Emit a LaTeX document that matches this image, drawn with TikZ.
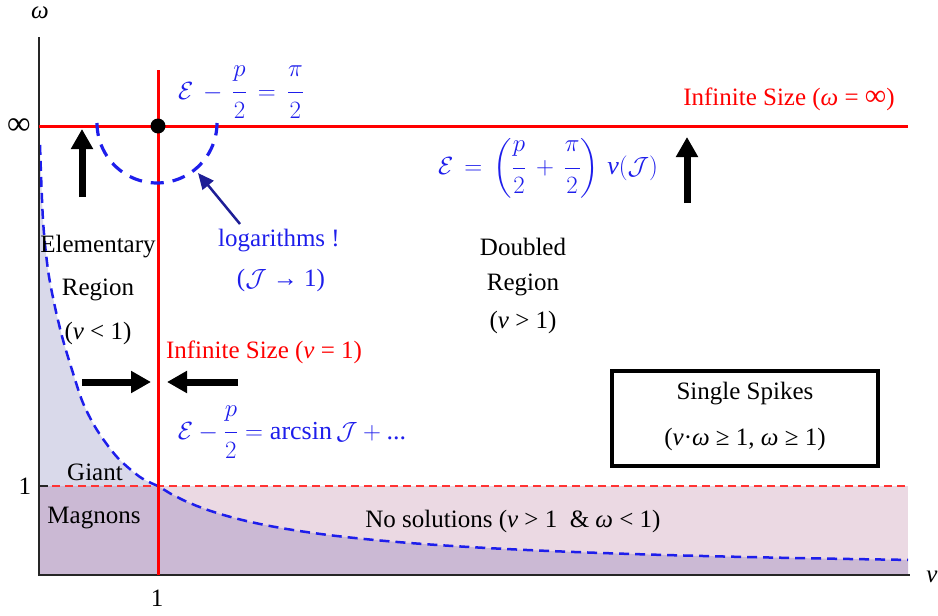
\documentclass[tikz,border=0pt]{standalone}
\usepackage{amsmath}
\usepackage{fontspec}
\setmainfont{Liberation Serif}
\usetikzlibrary{arrows.meta}
\definecolor{lav}{RGB}{217,217,234}
\definecolor{pnk}{RGB}{235,217,227}
\definecolor{purp}{RGB}{203,185,212}
\definecolor{eqblue}{RGB}{30,30,235}
\definecolor{navy}{RGB}{30,30,150}
\newcommand\tnu{\textit{ν}}
\newcommand\tom{\textit{ω}}
\newcommand\ffrac[2]{\dfrac{\raisebox{3pt}{$#1$}\rule[-10pt]{0pt}{0pt}}{\rule{0pt}{20pt}\raisebox{-2pt}{$#2$}}}
\begin{document}
\begin{tikzpicture}[x=1pt,y=-1pt,
  every node/.style={font=\fontsize{25}{30}\selectfont, inner sep=0pt},
  bigarrow/.style={line width=7pt, -{Triangle[length=20pt,width=21pt]}},
  redline/.style={red, line width=3pt},
  eq/.style={text=eqblue},
  eqbig/.style={text=eqblue, font=\fontsize{26}{31}\selectfont},
  redlbl/.style={text=red},
  bluedash/.style={eqblue, line width=2.5pt, dash pattern=on 10pt off 6pt}]
\useasboundingbox (0,0) rectangle (938,616);
% fills
\fill[pnk] (39,486) rectangle (908,575);
\fill[lav] (39,145) -- plot[smooth] coordinates {(40,145) (43,220) (48,270) (55,307) (63,340) (73,373) (83,403) (97,430) (117,457) (140,477) (158,486)} -- (39,486) -- cycle;
\fill[purp] (39,486) -- (158,486) -- plot[domain=158:908,samples=60] (\x,{575-89*((119/(\x-39))^0.9)}) -- (908,575) -- (39,575) -- cycle;
% red dashed omega=1
\draw[red!80, line width=2pt, dash pattern=on 8pt off 5pt] (39,486) -- (908,486);
% blue dashed curve
\draw[bluedash] plot[smooth] coordinates {(40,145) (43,220) (48,270) (55,307) (63,340) (73,373) (83,403) (97,430) (117,457) (140,477) (158,486)}
  -- plot[domain=158:908,samples=60] (\x,{575-89*((119/(\x-39))^0.9)});
% axes
\coordinate (O) at (39,575);
\coordinate (ytop) at (39,37);
\coordinate (xend) at (910,575);
\draw[black!85, line width=1.5pt] (ytop) -- (O) -- (xend);
\draw[black!85, line width=1.5pt] (39,126) -- (48,126) (39,486) -- (48,486) (158,575) -- (158,567);
\node (omlab) at (40,13) {\tom};
\node (nulab) at (932,577) {\tnu};
\node[font=\fontsize{33}{36}\selectfont] (inflab) at (19,127) {∞};
\node (onel) at (25,486) {1};
\node (oneb) at (157,598) {1};
% red lines
\coordinate (vtop) at (158,70);
\coordinate (vbot) at (158,575);
\coordinate (hl) at (39,126);
\coordinate (hr) at (908,126);
\draw[redline] (vtop) -- (vbot);
\draw[redline] (hl) -- (hr);
\node[circle, fill=black, minimum size=15pt] (dot) at (158,126) {};
% semicircle
\draw[eqblue, line width=3.2pt, dash pattern=on 13pt off 9pt] plot[domain=180:360,samples=50] ({157+60*cos(\x)},{123-60*sin(\x)});
% blue arrow
\coordinate (ba1) at (240,224);
\coordinate (ba2) at (198,173);
\draw[navy, line width=2.5pt, -{Triangle[length=16pt,width=14pt]}] (ba1) -- (ba2);
% black arrows
\coordinate (ua1) at (82,197); \coordinate (ua2) at (82,129);
\coordinate (ub1) at (687,203); \coordinate (ub2) at (687,137);
\coordinate (ra1) at (82,382); \coordinate (ra2) at (151,382);
\coordinate (la1) at (238,382); \coordinate (la2) at (167,382);
\draw[bigarrow] (ua1) -- (ua2);
\draw[bigarrow] (ub1) -- (ub2);
\draw[bigarrow] (ra1) -- (ra2);
\draw[bigarrow] (la1) -- (la2);
% equations
\node[eqbig] (eq1) at (241,92) {$\mathcal{E}\,-\,\ffrac{p}{2}\,=\,\ffrac{\pi}{2}$};
\node[eqbig] (eq2) at (548,168) {$\mathcal{E}\,=\,\left(\ffrac{p}{2}\,+\,\ffrac{\pi}{2}\right)\,\tnu(\mathcal{J})$};
\node[eqbig] (eq3) at (292,432) {$\mathcal{E}-\ffrac{p}{2}=\textup{arcsin}\,\mathcal{J}+\textup{...}$};
% labels
\node[redlbl] (infw) at (789,99) {Infinite Size (\tom{} = {\fontsize{30}{30}\selectfont ∞})};
\node[redlbl] (infn) at (264,352) {Infinite Size (\tnu{} = 1)};
\node[eq] (log1) at (279,241) {logarithms !};
\node[eq] (log2) at (281,280) {($\mathcal{J}$ → 1)};
\node (el1) at (98,247) {Elementary};
\node (el2) at (98,290) {Region};
\node (el3) at (98,333) {(\tnu{} < 1)};
\node (db1) at (523,247) {Doubled};
\node (db2) at (523,285) {Region};
\node (db3) at (523,322) {(\tnu{} > 1)};
\node (gi) at (95,472) {Giant};
\node (mg) at (94,518) {Magnons};
\node (nosol) at (513,521) {No solutions (\tnu{} > 1 \ \& \tom{} < 1)};
\draw[line width=4pt] (612,371) rectangle (878,466);
\node (ss1) at (745,394) {Single Spikes};
\node (ss2) at (745,439) {(\tnu{}·\tom{} ≥ 1, \tom{} ≥ 1)};
\end{tikzpicture}
\end{document}
